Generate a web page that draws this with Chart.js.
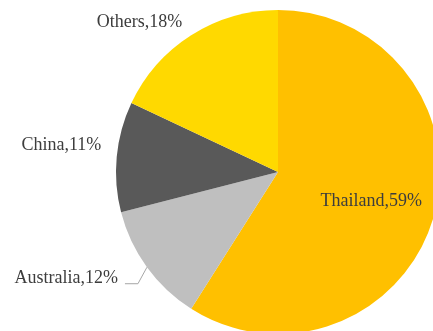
<!DOCTYPE html>
<html>
<head>
<meta charset="utf-8">
<script src="https://cdn.jsdelivr.net/npm/chart.js@4/dist/chart.umd.min.js"></script>
<style>
  html, body { margin: 0; padding: 0; background: #ffffff; overflow: hidden; }
  #wrap { width: 433px; height: 331px; }
</style>
</head>
<body>
<div id="wrap"><canvas id="c" width="433" height="331"></canvas></div>
<script>
// Share of sources
const categories = ['Thailand', 'Australia', 'China', 'Others'];
const shares = [59, 12, 11, 18];
const sliceColors = ['#FFC000', '#BFBFBF', '#595959', '#FFD900'];

// Label placement per slice: inside labels sit on the slice, outside ones
// are right-aligned next to the rim (offsets from the rim point at mid-angle).
const labelPlacement = [
  { inside: true, radiusFactor: 0.6, dy: 7 },
  { inside: false, dx: -29, dy: 16, leader: true },
  { inside: false, dx: -15.5, dy: -7 },
  { inside: false, dx: -9, dy: -8 }
];

const sliceLabels = {
  id: 'sliceLabels',
  afterDatasetsDraw(chart) {
    const ctx = chart.ctx;
    const meta = chart.getDatasetMeta(0);
    ctx.save();
    ctx.font = '18px "Liberation Serif", "Times New Roman", serif';
    ctx.fillStyle = '#3d3d3d';
    ctx.textBaseline = 'alphabetic';
    meta.data.forEach((arc, i) => {
      const p = arc.getProps(['x', 'y', 'startAngle', 'endAngle', 'outerRadius'], true);
      const mid = (p.startAngle + p.endAngle) / 2;
      const place = labelPlacement[i];
      const text = categories[i] + ',' + shares[i] + '%';
      if (place.inside) {
        const r = p.outerRadius * place.radiusFactor;
        ctx.textAlign = 'center';
        ctx.fillText(text, p.x + Math.cos(mid) * r, p.y + Math.sin(mid) * r + place.dy);
      } else {
        const ex = p.x + Math.cos(mid) * p.outerRadius;
        const ey = p.y + Math.sin(mid) * p.outerRadius;
        const tx = ex + place.dx;
        const ty = ey + place.dy;
        ctx.textAlign = 'right';
        ctx.fillText(text, tx, ty);
        if (place.leader) {
          ctx.beginPath();
          ctx.strokeStyle = '#a6a6a6';
          ctx.lineWidth = 1;
          ctx.moveTo(ex, ey);
          ctx.lineTo(tx + 20, ty + 0.5);
          ctx.lineTo(tx + 7, ty + 0.5);
          ctx.stroke();
        }
      }
    });
    ctx.restore();
  }
};

new Chart(document.getElementById('c'), {
  type: 'pie',
  data: {
    labels: categories,
    datasets: [{
      data: shares,
      backgroundColor: sliceColors,
      borderWidth: 0,
      radius: 162,
      clip: false
    }]
  },
  options: {
    responsive: false,
    animation: false,
    layout: { padding: { left: 123, right: 0, top: 13, bottom: 0 } },
    plugins: {
      legend: { display: false },
      tooltip: { enabled: false }
    }
  },
  plugins: [sliceLabels]
});
</script>
</body>
</html>
